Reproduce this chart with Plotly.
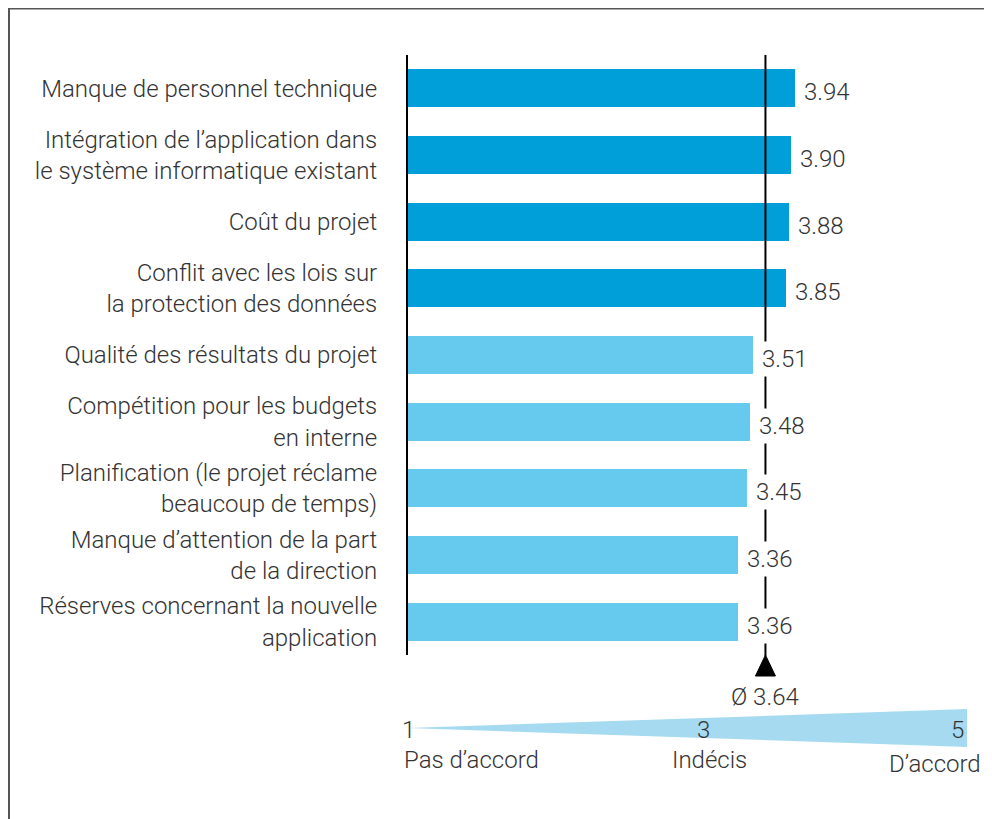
import plotly.graph_objects as go

# ---- data ----
categories = [
    "Manque de personnel technique",
    "Intégration de l’application dans<br>le système informatique existant",
    "Coût du projet",
    "Conflit avec les lois sur<br>la protection des données",
    "Qualité des résultats du projet",
    "Compétition pour les budgets<br>en interne",
    "Planification (le projet réclame<br>beaucoup de temps)",
    "Manque d’attention de la part<br>de la direction",
    "Réserves concernant la nouvelle<br>application",
]
values = [3.94, 3.90, 3.88, 3.85, 3.51, 3.48, 3.45, 3.36, 3.36]
groups = ["high", "high", "high", "high", "low", "low", "low", "low", "low"]
mean_value = 3.64
scale_ticks = [1, 3, 5]
scale_labels = ["Pas d’accord", "Indécis", "D’accord"]

# ---- style ----
OFF = 8                      # page body margin
W, H = 992 - OFF, 819 - OFF  # figure size
FONT = "Roboto"
FS = 24
TXT = "#333333"
colors = {"high": "#009fda", "low": "#66c9ee"}
WEDGE = "#a6daf1"

def py(px):  # page pixel (from top) -> paper y
    return 1 - (px - OFF) / H

def pxr(px):  # page pixel (from left) -> paper x
    return (px - OFF) / W

x0_px = 408
unit_px = 98.2
xmax = 5.8

fig = go.Figure()

fig.add_trace(go.Bar(
    x=values, y=categories, orientation="h",
    marker=dict(color=[colors[g] for g in groups], line=dict(width=0)),
    width=0.57, hoverinfo="skip", showlegend=False,
    xaxis="x", yaxis="y",
))

# wedge scale
smin, smax = min(scale_ticks), max(scale_ticks)
fig.add_trace(go.Scatter(
    x=[smin, smax, smax, smin], y=[0, 1, -1, 0],
    fill="toself", fillcolor=WEDGE, mode="lines",
    line=dict(width=0, color=WEDGE), hoverinfo="skip", showlegend=False,
    xaxis="x2", yaxis="y2",
))

font = dict(family=FONT, size=FS, color=TXT, weight=300)

annotations = []
for c, v in zip(categories, values):
    annotations.append(dict(
        x=v, y=c, xref="x", yref="y", text=f"{v:.2f}",
        xanchor="left", yanchor="middle", xshift=5, yshift=-4,
        showarrow=False, bgcolor="white", borderpad=3,
        font=font,
    ))

annotations.append(dict(
    x=mean_value, y=py(697), xref="x", yref="paper",
    text=f"Ø {mean_value:.2f}", showarrow=False,
    xanchor="center", yanchor="middle", font=font,
))

# scale labels
tick_shift = {1: 0, 3: 16, 5: -1}
tick_anchor = {1: "center", 3: "center", 5: "right"}
for t in scale_ticks:
    annotations.append(dict(
        x=t, y=py(730), xref="x2", yref="paper", text=str(t),
        showarrow=False, xanchor=tick_anchor[t], yanchor="middle",
        xshift=tick_shift[t], font=font,
    ))
lab_shift = [-6, 22, 16]
lab_anchor = ["left", "center", "right"]
lab_y = [760, 760, 764]
for t, lab, sh, an, yy in zip(scale_ticks, scale_labels, lab_shift, lab_anchor, lab_y):
    annotations.append(dict(
        x=t, y=py(yy), xref="x2", yref="paper", text=lab,
        showarrow=False, xanchor=an, yanchor="middle", xshift=sh, font=font,
    ))

shapes = [
    # mean line
    dict(type="line", xref="x", yref="paper", x0=mean_value, x1=mean_value,
         y0=py(55), y1=py(656), line=dict(color="black", width=2), layer="above"),
    # triangle marker
    dict(type="path", xref="x", yref="paper", xsizemode="pixel", ysizemode="pixel",
         xanchor=mean_value, yanchor=py(676),
         path="M -10,0 L 10,0 L 0,21 Z", fillcolor="black",
         line=dict(color="black", width=1), layer="above"),
    # frame
    dict(type="path", xref="paper", yref="paper",
         path=f"M {pxr(9)},{-0.02} L {pxr(9)},{py(8.5)} L {1.02},{py(8.5)}",
         line=dict(color="#555555", width=2)),
]

fig.update_layout(
    width=W, height=H, autosize=False,
    margin=dict(l=0, r=0, t=0, b=0),
    paper_bgcolor="white", plot_bgcolor="white",
    bargap=0,
    xaxis=dict(domain=[pxr(x0_px), pxr(x0_px + xmax * unit_px)], range=[0, xmax],
               visible=False, fixedrange=True),
    yaxis=dict(domain=[py(655), py(55)], range=[8.5, -0.5], type="category",
               showline=True, linecolor="black", linewidth=2, showgrid=False,
               ticks="", ticklabelstandoff=24, zeroline=False,
               tickfont=font, fixedrange=True),
    xaxis2=dict(domain=[pxr(x0_px), pxr(967)], range=[smin, smax], anchor="y2",
                visible=False, fixedrange=True),
    yaxis2=dict(domain=[py(747), py(709)], range=[-1, 1], anchor="x2",
                visible=False, fixedrange=True),
    annotations=annotations,
    shapes=shapes,
)

fig.write_html("out.html")
